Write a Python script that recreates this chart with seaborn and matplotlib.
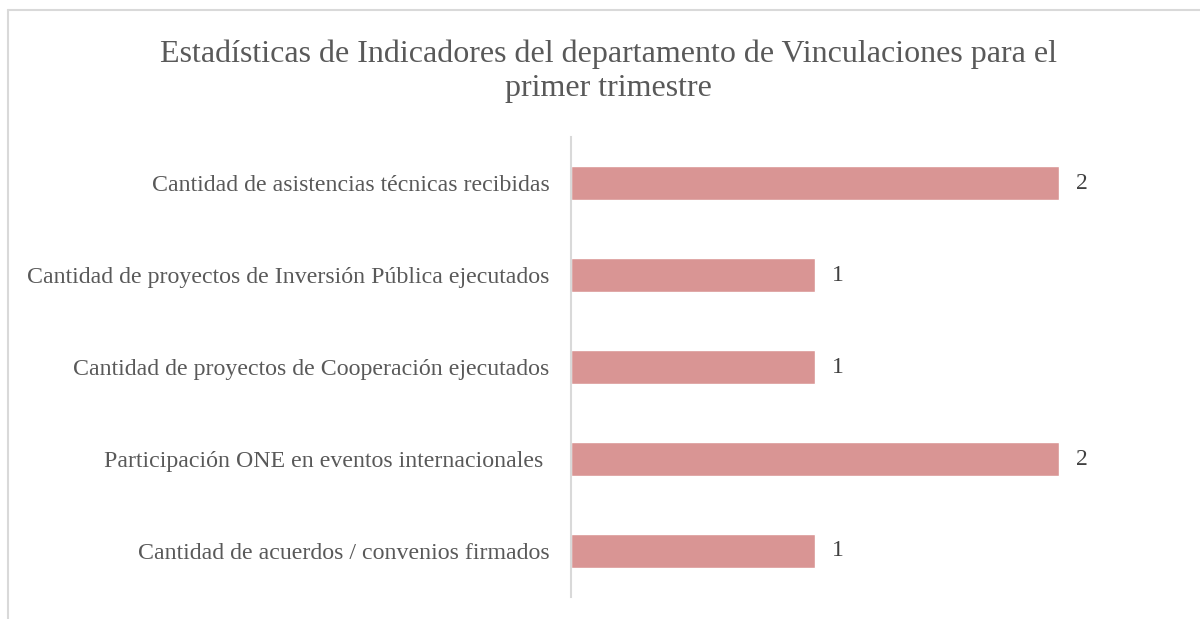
import matplotlib
matplotlib.use("Agg")
import matplotlib.pyplot as plt
import seaborn as sns
import pandas as pd
from matplotlib.lines import Line2D

categorias = [
    "Cantidad de asistencias técnicas recibidas",
    "Cantidad de proyectos de Inversión Pública ejecutados",
    "Cantidad de proyectos de Cooperación ejecutados",
    "Participación ONE en eventos internacionales ",
    "Cantidad de acuerdos / convenios firmados",
]
valores = [2, 1, 1, 2, 1]
titulo = "Estadísticas de Indicadores del departamento de Vinculaciones para el\nprimer trimestre"

sns.set_theme(style="white")
plt.rcParams["font.family"] = ["Liberation Serif", "DejaVu Serif"]

df = pd.DataFrame({"indicador": categorias, "valor": valores})

fig = plt.figure(figsize=(12, 6.19), dpi=100)
ax = fig.add_axes([571 / 1200, 22 / 619, 608 / 1200, 460 / 619])

sns.barplot(data=df, x="valor", y="indicador", orient="h", color="#D99594",
            saturation=1, width=0.36, ax=ax)

ax.set_xlim(0, 2.49)
ax.set_ylim(4.5, -0.5)
ax.set_xlabel("")
ax.set_ylabel("")
ax.set_xticks([])
for s in ["top", "right", "bottom"]:
    ax.spines[s].set_visible(False)
ax.spines["left"].set_color("#D9D9D9")
ax.spines["left"].set_linewidth(1.5)
ax.tick_params(axis="y", length=0, pad=15.5, labelsize=17.2, labelcolor="#595959")

for i, v in enumerate(valores):
    ax.annotate(str(v), (v, i), xytext=(12, 0), textcoords="offset points",
                va="center", ha="left", fontsize=17, color="#404040")

fig.text(0.507, 0.936, titulo, ha="center", va="top", fontsize=23,
         color="#595959", linespacing=1.2)

# borde del área del gráfico
fig.add_artist(Line2D([7.5 / 1200, 7.5 / 1200], [0, 1 - 9.5 / 619],
                      transform=fig.transFigure, color="#D9D9D9", lw=1.5))
fig.add_artist(Line2D([7.5 / 1200, 1], [1 - 9.5 / 619, 1 - 9.5 / 619],
                      transform=fig.transFigure, color="#D9D9D9", lw=1.5))

fig.savefig("out.png", dpi=100, facecolor="white")
